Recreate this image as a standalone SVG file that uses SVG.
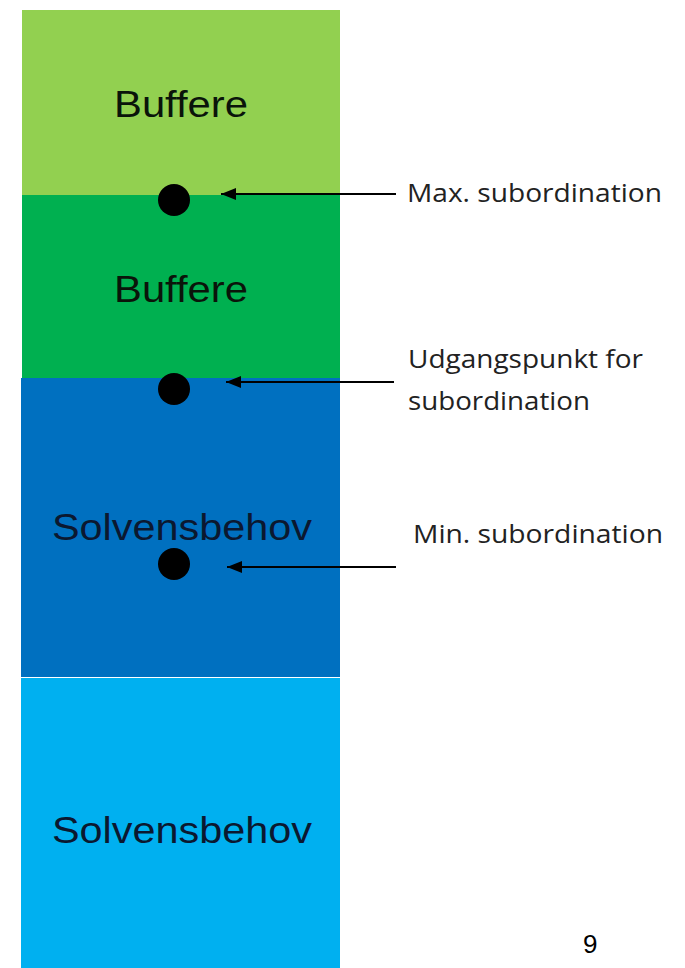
<svg xmlns="http://www.w3.org/2000/svg" width="685" height="968" viewBox="0 0 685 968">
<style>
.band-text{font-family:"Liberation Sans",Arial,sans-serif;font-size:36px;text-anchor:start}
.label{font-family:"Open Sans","Liberation Sans",sans-serif;font-size:26px;fill:#222}
.dot{fill:#000}
.conn{stroke:#000;stroke-width:2;fill:none}
</style>
<defs>
<marker id="ah" markerWidth="15" markerHeight="12" refX="15" refY="6" orient="auto" markerUnits="userSpaceOnUse">
<path d="M0,0 L15,6 L0,12 Z" fill="#000"/>
</marker>
</defs>
<rect width="685" height="968" fill="#fff"/>
<g id="band1">
<rect x="22" y="10" width="318" height="185" fill="#92D050"/>
<text class="band-text" x="114" y="117" fill="#0a140a" textLength="134" lengthAdjust="spacingAndGlyphs">Buffere</text>
</g>
<g id="band2">
<rect x="22" y="195" width="318" height="183" fill="#00B050"/>
<text class="band-text" x="114" y="302" fill="#0a140a" textLength="134" lengthAdjust="spacingAndGlyphs">Buffere</text>
</g>
<g id="band3">
<rect x="21" y="378" width="319" height="299" fill="#0070C0"/>
<text class="band-text" x="52" y="540" fill="#0b1830" textLength="260" lengthAdjust="spacingAndGlyphs">Solvensbehov</text>
</g>
<g id="band4">
<rect x="21" y="678" width="319" height="290" fill="#00B0F0"/>
<text class="band-text" x="52" y="843" fill="#0b1830" textLength="260" lengthAdjust="spacingAndGlyphs">Solvensbehov</text>
</g>
<g id="dot-max"><circle class="dot" cx="174" cy="200" r="16"/></g>
<g id="dot-start"><circle class="dot" cx="174" cy="389" r="16"/></g>
<g id="dot-min"><circle class="dot" cx="174" cy="564" r="16"/></g>
<g id="connectors">
<line class="conn" x1="396" y1="194" x2="221" y2="194" marker-end="url(#ah)"/>
<line class="conn" x1="394" y1="382" x2="226" y2="382" marker-end="url(#ah)"/>
<line class="conn" x1="396" y1="567" x2="227" y2="567" marker-end="url(#ah)"/>
</g>
<g id="label-max">
<text class="label" x="407" y="202" textLength="255" lengthAdjust="spacingAndGlyphs">Max. subordination</text>
</g>
<g id="label-start">
<text class="label" x="408" y="368" textLength="235" lengthAdjust="spacingAndGlyphs">Udgangspunkt for</text>
<text class="label" x="408" y="410" textLength="182" lengthAdjust="spacingAndGlyphs">subordination</text>
</g>
<g id="label-min">
<text class="label" x="413" y="543" textLength="250" lengthAdjust="spacingAndGlyphs">Min. subordination</text>
</g>
<text x="583" y="953" font-family="'Liberation Sans',Arial,sans-serif" font-size="26" fill="#000">9</text>
</svg>
